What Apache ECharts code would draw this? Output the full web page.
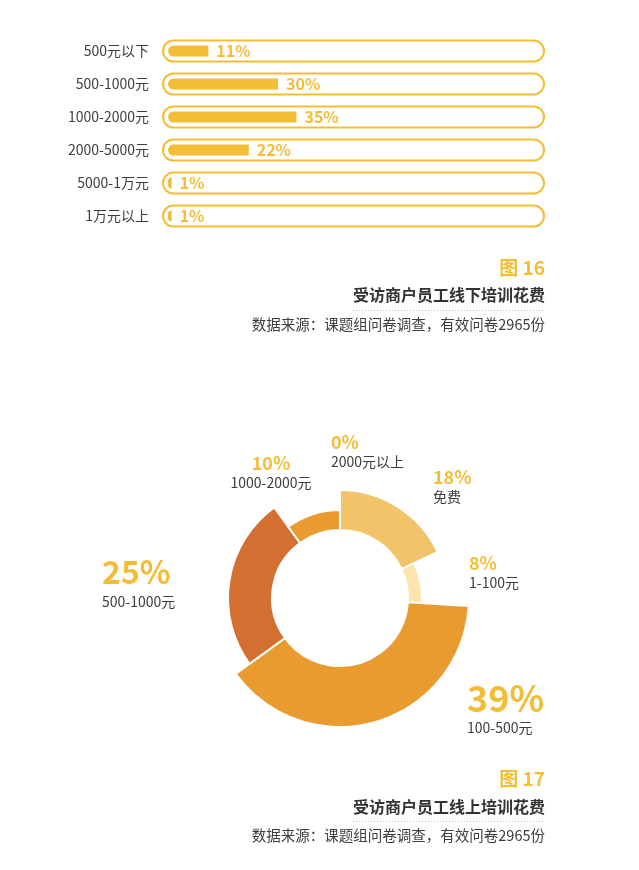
<!DOCTYPE html>
<html>
<head>
<meta charset="utf-8">
<script src="https://cdn.jsdelivr.net/npm/echarts@6/dist/echarts.min.js"></script>
<style>
  html, body { margin: 0; padding: 0; background: #fff; }
  #main { width: 639px; height: 870px; }
</style>
</head>
<body>
<div id="main"></div>
<script>
// 图16 线下培训花费
const offlineCats = ['500元以下', '500-1000元', '1000-2000元', '2000-5000元', '5000-1万元', '1万元以上'];
const offlineVals = [11, 30, 35, 22, 1, 1];

// 图17 线上培训花费 (clockwise from 12 o'clock)
const onlineCats = ['免费', '1-100元', '100-500元', '500-1000元', '1000-2000元', '2000元以上'];
const onlineVals = [18, 8, 39, 25, 10, 0];

const yellow = '#F3BD36';
const textDark = '#3d3d3d';
const font = '"Noto Sans CJK SC", "Noto Sans", sans-serif';

// ring look: colour and outer radius of every slice
const sliceColors = ['#F3C36A', '#FCE4AD', '#EA9B30', '#D46F32', '#EA9B30', '#EA9B30'];
const sliceOuter = [108, 82, 129, 112, 88, 90];
// label spots: x, top, align, big text?
const labelSpots = [
    [433, 466, 'left', false],
    [469, 552, 'left', false],
    [467, 678, 'left', true],
    [102, 552, 'left', true],
    [271, 452, 'center', false],
    [331, 431, 'left', false]
];

var chartDom = document.getElementById('main');
var myChart = echarts.init(chartDom);

var ringSeries = onlineVals.map(function (v, k) {
    return {
        type: 'pie',
        center: [340, 598],
        radius: [68, sliceOuter[k]],
        startAngle: 90,
        clockwise: true,
        avoidLabelOverlap: false,
        silent: true,
        label: { show: false },
        labelLine: { show: false },
        emphasis: { disabled: true },
        data: onlineVals.map(function (val, i) {
            return {
                name: onlineCats[i],
                value: val,
                itemStyle: i === k
                    ? { color: sliceColors[i], borderColor: '#fff', borderWidth: 2 }
                    : { color: 'rgba(0,0,0,0)', borderWidth: 0 }
            };
        })
    };
});

var labelSeries = {
    type: 'pie',
    center: [340, 598],
    radius: [68, 129],
    startAngle: 90,
    clockwise: true,
    avoidLabelOverlap: false,
    silent: true,
    itemStyle: { color: 'rgba(0,0,0,0)' },
    labelLine: { show: false },
    emphasis: { disabled: true },
    label: {
        show: true,
        position: 'outside',
        formatter: function (p) {
            var big = labelSpots[p.dataIndex][3];
            var key = big ? (p.dataIndex === 2 ? 'bq' : 'bp') : 'sp';
            return '{' + key + '|' + p.value + '%}\n{' + (big ? 'bn' : 'sn') + '|' + p.name + '}';
        },
        rich: {
            bp: { fontFamily: font, fontSize: 32, fontWeight: 'bold', color: yellow, lineHeight: 40 },
            bq: { fontFamily: font, fontSize: 36, fontWeight: 'bold', color: yellow, lineHeight: 40 },
            bn: { fontFamily: font, fontSize: 14, color: textDark, lineHeight: 20 },
            sp: { fontFamily: font, fontSize: 18, fontWeight: 'bold', color: yellow, lineHeight: 22 },
            sn: { fontFamily: font, fontSize: 14, color: textDark, lineHeight: 18 }
        }
    },
    labelLayout: function (params) {
        var s = labelSpots[params.dataIndex];
        return { x: s[0], y: s[1], align: s[2], verticalAlign: 'top' };
    },
    data: onlineVals.map(function (val, i) {
        return { name: onlineCats[i], value: val };
    })
};

function captionBlock(num, title, tops) {
    return [
        {
            text: num, right: 94, top: tops[0],
            textStyle: { fontFamily: font, fontSize: 19, fontWeight: 'bold', color: yellow }
        },
        {
            text: title, right: 94, top: tops[1],
            textStyle: { fontFamily: font, fontSize: 16, fontWeight: 'bold', color: '#333' }
        },
        {
            text: '数据来源：课题组问卷调查，有效问卷2965份', right: 94, top: tops[2],
            textStyle: { fontFamily: font, fontSize: 14.5, fontWeight: 'normal', color: textDark }
        }
    ];
}

var option = {
    animation: false,
    backgroundColor: '#fff',
    title: captionBlock('图 16', '受访商户员工线下培训花费', [258, 287, 317])
        .concat(captionBlock('图 17', '受访商户员工线上培训花费', [769, 799, 828]))
        .map(function (t) { t.padding = 0; return t; }),
    graphic: [
        {
            type: 'line',
            shape: { x1: 353, y1: 310.5, x2: 545, y2: 310.5 },
            style: { stroke: '#bdbdbd', lineWidth: 1, lineDash: [1, 2] }
        },
        {
            type: 'line',
            shape: { x1: 353, y1: 821.5, x2: 545, y2: 821.5 },
            style: { stroke: '#bdbdbd', lineWidth: 1, lineDash: [1, 2] }
        }
    ],
    grid: [
        { left: 163, width: 381, top: 34.5, height: 198 },
        { left: 168, width: 367, top: 34.5, height: 198 }
    ],
    xAxis: [
        { gridIndex: 0, type: 'value', min: 0, max: 100, show: false },
        { gridIndex: 1, type: 'value', min: 0, max: 100, show: false }
    ],
    yAxis: [
        {
            gridIndex: 0, type: 'category', data: offlineCats, inverse: true,
            axisLine: { show: false }, axisTick: { show: false },
            axisLabel: { margin: 14, fontFamily: font, fontSize: 14, color: textDark }
        },
        {
            gridIndex: 1, type: 'category', data: offlineCats, inverse: true, show: false
        }
    ],
    series: [
        {
            type: 'bar',
            xAxisIndex: 0, yAxisIndex: 0,
            data: offlineVals,
            barWidth: 21,
            silent: true,
            itemStyle: { color: 'rgba(0,0,0,0)' },
            showBackground: true,
            backgroundStyle: { color: '#fff', borderColor: yellow, borderWidth: 2, borderRadius: 10.5 }
        },
        {
            type: 'bar',
            xAxisIndex: 1, yAxisIndex: 1,
            data: offlineVals,
            barWidth: 11,
            silent: true,
            itemStyle: { color: yellow, borderRadius: [5.5, 0, 0, 5.5] },
            label: {
                show: true, position: 'right', distance: 8,
                formatter: '{c}%',
                fontFamily: font, fontSize: 16, fontWeight: 'bold', color: yellow
            }
        }
    ].concat(ringSeries, [labelSeries])
};

option && myChart.setOption(option);
</script>
</body>
</html>
